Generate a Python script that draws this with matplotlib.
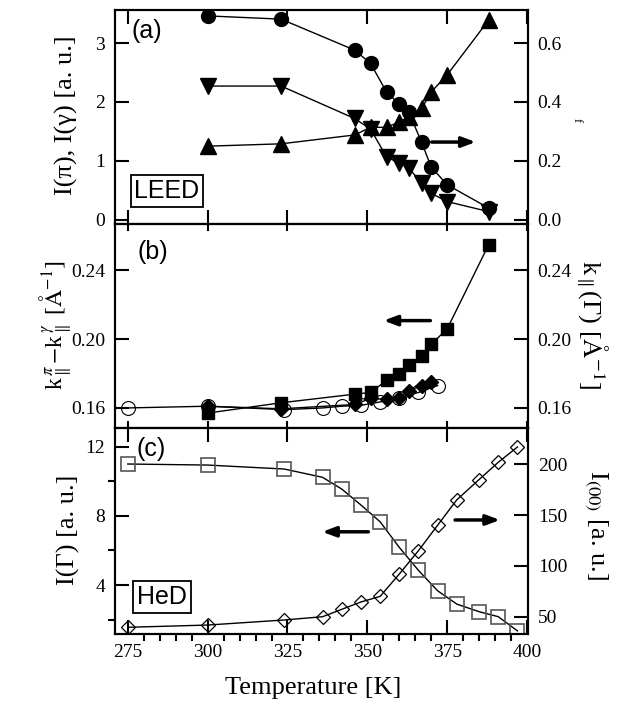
import numpy as np
import matplotlib
matplotlib.use('Agg')
import matplotlib.pyplot as plt
from matplotlib.ticker import MultipleLocator

plt.rcParams['font.family'] = ['Liberation Serif', 'DejaVu Serif']
plt.rcParams['mathtext.fontset'] = 'stix'

# LEED temperatures
T_leed = [300, 323, 346, 351, 356, 360, 363, 367, 370, 375, 388]
I_up = [1.25, 1.29, 1.44, 1.57, 1.57, 1.66, 1.75, 1.89, 2.17, 2.46, 3.39]
I_down = [2.27, 2.27, 1.72, 1.54, 1.07, 0.96, 0.88, 0.62, 0.45, 0.31, 0.14]
f_leed = [0.692, 0.681, 0.576, 0.531, 0.434, 0.392, 0.365, 0.263, 0.179, 0.119, 0.040]
dk_leed = [0.157, 0.163, 0.168, 0.169, 0.176, 0.180, 0.185, 0.190, 0.197, 0.206, 0.255]
kG_leed = [0.161, 0.1595, 0.162, 0.1655, 0.165, 0.166, 0.170, 0.173, 0.175]

# HeD temperatures
T_hed = [275, 300, 324, 336, 342, 348, 354, 360, 366, 372, 378, 385, 391, 397]
kG_hed = [0.160, 0.161, 0.159, 0.160, 0.161, 0.1615, 0.1635, 0.166, 0.169, 0.173]
IG_hed = [11.0, 10.94, 10.71, 10.23, 9.55, 8.63, 7.66, 6.18, 4.85, 3.67, 2.90, 2.46, 2.17, 1.35]
I00_hed = [39.6, 41.8, 46.8, 50, 57.3, 64.5, 70, 92, 115, 140, 165, 185, 202, 217]

W, H = 624, 708
fig = plt.figure(figsize=(W / 100, H / 100), dpi=100)

x0, x1 = 115, 528
tops = [10, 224, 427.7, 634]


def make_ax(i):
    t, b = tops[i], tops[i + 1]
    return fig.add_axes([x0 / W, 1 - b / H, (x1 - x0) / W, (b - t) / H])


axa = make_ax(0)
axb = make_ax(1)
axc = make_ax(2)
axa2 = axa.twinx()
axb2 = axb.twinx()
axc2 = axc.twinx()

for ax in [axa, axb, axc, axa2, axb2, axc2]:
    for s in ax.spines.values():
        s.set_linewidth(1.5)
    ax.set_xlim(271, 400.3)
    ax.xaxis.set_major_locator(MultipleLocator(25))
    ax.tick_params(direction='in', labelsize=14, width=1.5, pad=7)
    ax.tick_params(which='major', length=10)
    ax.tick_params(which='minor', length=5, width=1.5)

for ax in [axa, axb, axc]:
    ax.tick_params(axis='x', top=True, bottom=True, labelbottom=False)
axc.tick_params(axis='x', labelbottom=True)
axa.xaxis.set_minor_locator(MultipleLocator(5))
axc.xaxis.set_minor_locator(MultipleLocator(5))
axa.tick_params(axis='x', which='minor', bottom=False)
axc.tick_params(axis='x', which='minor', top=False)
axb.tick_params(axis='x', length=5)
for ax in [axa2, axb2, axc2]:
    ax.tick_params(axis='x', which='both', top=False, bottom=False)

line_kw = dict(color='black', lw=1.0)
arrow_kw = dict(arrowstyle='-|>,head_length=0.8,head_width=0.3', lw=2.5, color='black')

# panel (a)
axa.plot(T_leed, I_up, marker='^', ms=11, mfc='black', mec='black', **line_kw)
axa.plot(T_leed, I_down, marker='v', ms=11, mfc='black', mec='black', **line_kw)
axa2.plot(T_leed, f_leed, marker='o', ms=10, mfc='black', mec='black', **line_kw)
axa.set_ylim(-0.07, 3.56)
axa2.set_ylim(-0.014, 0.712)
axa.yaxis.set_major_locator(MultipleLocator(1))
axa2.yaxis.set_major_locator(MultipleLocator(0.2))
axa2.yaxis.set_major_formatter(matplotlib.ticker.FormatStrFormatter('%.1f'))
axa.annotate('', xy=(384.8, 1.32), xytext=(369.3, 1.32), arrowprops=arrow_kw)
axa.text(0.077, 0.902, '(a)', transform=axa.transAxes, ha='center', va='center',
         fontsize=18, family='Liberation Sans')
axa.text(0.126, 0.154, 'LEED', transform=axa.transAxes, ha='center', va='center',
         fontsize=18, family='Liberation Sans',
         bbox=dict(boxstyle='square,pad=0.15', fc='white', ec='black', lw=1.3))

# panel (b)
axb.plot(T_leed, dk_leed, marker='s', ms=9, mfc='black', mec='black', **line_kw)
axb2.plot(T_hed[:len(kG_hed)], kG_hed, marker='o', ms=10, mfc='none', mec='black', mew=0.8, **line_kw)
axb2.plot(T_leed[:len(kG_leed)], kG_leed, marker='D', ms=7.5, mfc='black', mec='black', **line_kw)
axb.set_ylim(0.1485, 0.267)
axb2.set_ylim(0.1485, 0.267)
for ax in [axb, axb2]:
    ax.yaxis.set_major_locator(MultipleLocator(0.04))
    ax.yaxis.set_major_formatter(matplotlib.ticker.FormatStrFormatter('%.2f'))
axb.annotate('', xy=(354.2, 0.2108), xytext=(370.6, 0.2108), arrowprops=arrow_kw)
axb.text(0.092, 0.863, '(b)', transform=axb.transAxes, ha='center', va='center',
         fontsize=18, family='Liberation Sans')

# panel (c)
axc.plot(T_hed, IG_hed, marker='s', ms=10, mfc='none', mec='#555555', mew=1.2, **line_kw)
axc2.plot(T_hed, I00_hed, marker='D', ms=7, mfc='none', mec='black', mew=0.9, **line_kw)
axc.set_ylim(1.17, 13.1)
axc2.set_ylim(33, 236)
axc.yaxis.set_major_locator(MultipleLocator(4))
axc.yaxis.set_minor_locator(MultipleLocator(2))
axc2.yaxis.set_major_locator(MultipleLocator(50))
axc.annotate('', xy=(335.0, 7.08), xytext=(351.2, 7.08), arrowprops=arrow_kw)
axc2.annotate('', xy=(392.4, 145.2), xytext=(376.6, 145.2), arrowprops=arrow_kw)
axc.text(0.087, 0.897, '(c)', transform=axc.transAxes, ha='center', va='center',
         fontsize=18, family='Liberation Sans')
axc.text(0.114, 0.179, 'HeD', transform=axc.transAxes, ha='center', va='center',
         fontsize=18, family='Liberation Sans',
         bbox=dict(boxstyle='square,pad=0.15', fc='white', ec='black', lw=1.3))

# axis labels
fig.text(313 / W, 1 - 688 / H, 'Temperature [K]', ha='center', va='center', fontsize=19)
fig.text(66 / W, 1 - 115 / H, 'I(π), I(γ) [a. u.]', rotation=90, ha='center', va='center', fontsize=19)
fig.text(56 / W, 1 - 325 / H,
         r'k$_{\parallel}^{\,\pi}$$-$k$_{\parallel}^{\,\gamma}$ [$\mathrm{\AA}^{-1}$]',
         rotation=90, ha='center', va='center', fontsize=17)
fig.text(68 / W, 1 - 530 / H, 'I(Γ) [a. u.]', rotation=90, ha='center', va='center', fontsize=19)
fig.text(577 / W, 1 - 120 / H, 'f', rotation=-90, ha='center', va='center', fontsize=9)
fig.text(592 / W, 1 - 325 / H, r'k$_{\parallel}$(Γ) [$\mathrm{\AA}^{-1}$]',
         rotation=-90, ha='center', va='center', fontsize=19)
fig.text(596 / W, 1 - 525 / H, r'I$_{(00)}$ [a. u.]', rotation=-90, ha='center', va='center', fontsize=19)

fig.savefig('out.png', dpi=100)
